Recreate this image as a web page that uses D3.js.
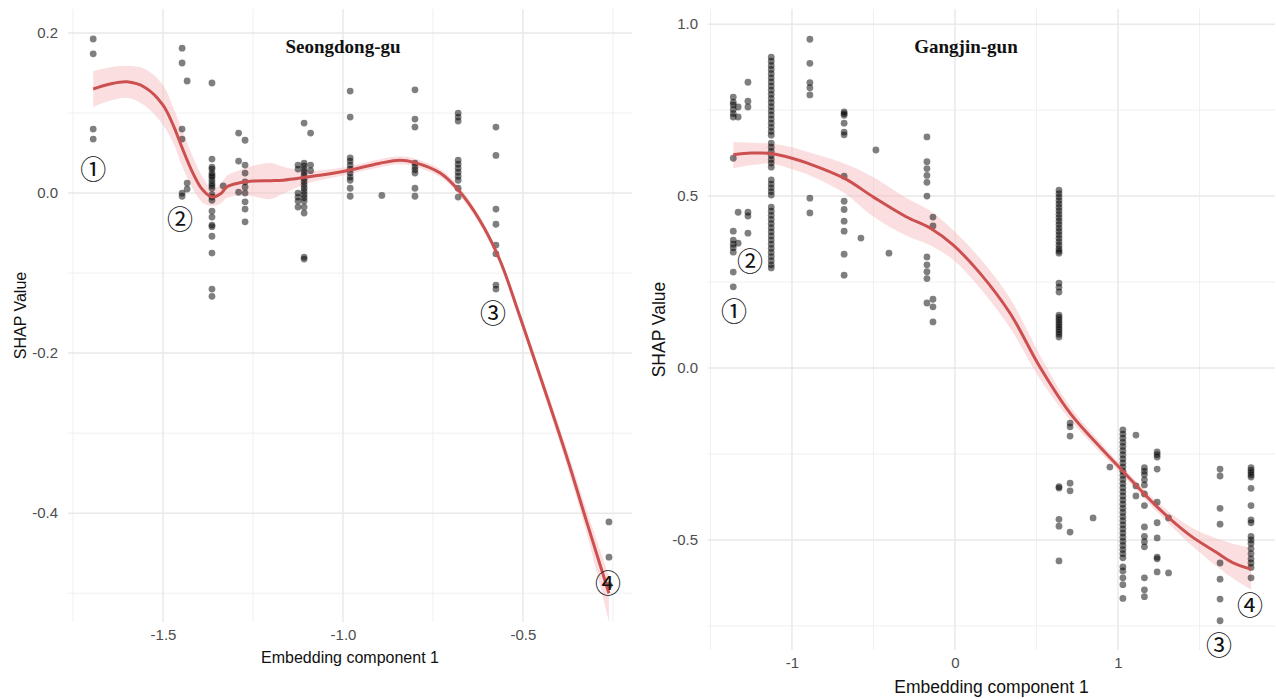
<!DOCTYPE html>
<html lang="en">
<head>
<meta charset="UTF-8">
<title>SHAP dependence - Seongdong-gu / Gangjin-gun</title>
<script src="https://cdn.jsdelivr.net/npm/d3@7"></script>
<style>
  body { margin: 0; background: #fff; }
</style>
</head>
<body>
<div id="chart"></div>
<script>
// ---- Seongdong-gu (left panel) ----
// each entry: [embedding value, [shap values at that embedding]]
const seongdongPoints = [
  [-1.694, [0.1925, 0.174, 0.08, 0.0675]],
  [-1.447, [0.181, 0.1625, 0.08, 0.0675, 0.0, -0.004]],
  [-1.433, [0.14, 0.0125, 0.005]],
  [-1.364, [0.1375, 0.0425, 0.0325, 0.03, 0.025, 0.022, 0.02, 0.016, 0.012, 0.009, 0.006, -0.002, -0.005, -0.009, -0.0225, -0.03, -0.04, -0.042, -0.054, -0.075, -0.12, -0.129]],
  [-1.333, [0.009]],
  [-1.29, [0.075, 0.04, 0.001]],
  [-1.272, [0.066, 0.035, 0.025, 0.014, 0.0075, 0.0, -0.011, -0.02, -0.036]],
  [-1.125, [0.035, 0.03, 0.0, -0.005, -0.01, -0.0175]],
  [-1.108, [0.0875, 0.0375, 0.034, 0.03, 0.026, 0.022, 0.018, 0.014, 0.01, 0.006, 0.002, -0.002, -0.006, -0.01, -0.0175, -0.025, -0.08, -0.0825]],
  [-1.09, [0.075, 0.035, 0.028]],
  [-0.98, [0.1275, 0.095, 0.044, 0.04, 0.035, 0.03, 0.025, 0.02, 0.016, 0.006, -0.004]],
  [-0.892, [-0.003]],
  [-0.8, [0.129, 0.0925, 0.0825, 0.0375, 0.033, 0.029, 0.025, 0.006, -0.004]],
  [-0.68, [0.1, 0.095, 0.09, 0.041, 0.036, 0.031, 0.026, 0.021, 0.016, 0.006, -0.005]],
  [-0.575, [0.0825, 0.047, -0.02, -0.039, -0.065, -0.076, -0.115, -0.12]],
  [-0.261, [-0.411, -0.455, -0.49]]
];
const seongdongFitX = [-1.694, -1.65, -1.6, -1.55, -1.5, -1.47, -1.45, -1.417, -1.39, -1.364, -1.34, -1.322, -1.29, -1.25, -1.2, -1.167, -1.1, -1.0, -0.9, -0.842, -0.8, -0.73, -0.68, -0.62, -0.564, -0.508, -0.45, -0.378, -0.32, -0.261];
const seongdongFit   = [0.130, 0.136, 0.139, 0.132, 0.110, 0.083, 0.060, 0.025, 0.004, -0.005, -0.001, 0.008, 0.0125, 0.015, 0.0155, 0.016, 0.020, 0.027, 0.037, 0.041, 0.038, 0.025, 0.004, -0.034, -0.084, -0.155, -0.232, -0.33, -0.415, -0.5];
const seongdongHi    = [0.1525, 0.157, 0.159, 0.155, 0.135, 0.105, 0.083, 0.045, 0.02, 0.006, 0.011, 0.022, 0.028, 0.034, 0.0375, 0.033, 0.028, 0.032, 0.042, 0.046, 0.043, 0.03, 0.009, -0.029, -0.079, -0.149, -0.225, -0.32, -0.4, -0.478];
const seongdongLo    = [0.1075, 0.115, 0.119, 0.109, 0.085, 0.061, 0.037, 0.005, -0.012, -0.016, -0.013, -0.006, -0.003, -0.004, -0.0075, -0.001, 0.012, 0.022, 0.032, 0.036, 0.033, 0.02, -0.001, -0.039, -0.089, -0.161, -0.239, -0.34, -0.43, -0.535];
const seongdongMarks = [["①", -1.694, 0.0325], ["②", -1.453, -0.031], ["③", -0.583, -0.1475], ["④", -0.264, -0.485]];

// ---- Gangjin-gun (right panel) ----
const gangjinPoints = [
  [-1.36, [0.788, 0.773, 0.765, 0.752, 0.74, 0.73, 0.61, 0.398, 0.372, 0.36, 0.35, 0.337, 0.279, 0.236]],
  [-1.33, [0.759, 0.73, 0.453, 0.363]],
  [-1.27, [0.831, 0.776, 0.759, 0.453, 0.442, 0.392]],
  [-1.127, [0.904, 0.892, 0.88, 0.868, 0.856, 0.844, 0.832, 0.82, 0.808, 0.796, 0.784, 0.772, 0.76, 0.748, 0.736, 0.724, 0.712, 0.7, 0.688, 0.677,
            0.654, 0.642, 0.63, 0.618, 0.606, 0.596, 0.584, 0.547, 0.535, 0.524, 0.513, 0.503,
            0.468, 0.456, 0.444, 0.432, 0.42, 0.408, 0.396, 0.384, 0.372, 0.36, 0.348, 0.336, 0.324, 0.312, 0.3, 0.291]],
  [-0.89, [0.956, 0.886, 0.83, 0.815, 0.794, 0.494, 0.451]],
  [-0.68, [0.745, 0.74, 0.735, 0.712, 0.686, 0.678, 0.558, 0.485, 0.461, 0.427, 0.398, 0.331, 0.27]],
  [-0.577, [0.378]],
  [-0.485, [0.634]],
  [-0.405, [0.334]],
  [-0.172, [0.672, 0.6, 0.58, 0.56, 0.54, 0.5, 0.323, 0.3, 0.28, 0.26, 0.189]],
  [-0.135, [0.439, 0.413, 0.2, 0.178, 0.134]],
  [0.638, [0.517, 0.507, 0.497, 0.487, 0.477, 0.467, 0.457, 0.447, 0.437, 0.427, 0.417, 0.407, 0.397, 0.387, 0.377, 0.367, 0.357, 0.347, 0.34, 0.334,
           0.247, 0.235, 0.221, 0.154, 0.147, 0.14, 0.133, 0.126, 0.119, 0.112, 0.105, 0.098, 0.09, -0.345, -0.349, -0.44, -0.46, -0.561]],
  [0.706, [-0.16, -0.171, -0.198, -0.335, -0.357, -0.477]],
  [0.847, [-0.436]],
  [0.95, [-0.288]],
  [1.03, [-0.18, -0.192, -0.204, -0.216, -0.228, -0.24, -0.252, -0.264, -0.276, -0.288, -0.3, -0.312, -0.324, -0.336, -0.348, -0.36,
          -0.372, -0.384, -0.396, -0.408, -0.42, -0.432, -0.444, -0.456, -0.468, -0.48, -0.492, -0.504, -0.516, -0.528, -0.54, -0.552,
          -0.578, -0.59, -0.61, -0.63, -0.67]],
  [1.11, [-0.195, -0.343, -0.372]],
  [1.162, [-0.29, -0.3, -0.31, -0.325, -0.34, -0.366, -0.4, -0.462, -0.49, -0.505, -0.52, -0.61, -0.645, -0.665]],
  [1.24, [-0.244, -0.252, -0.259, -0.294, -0.39, -0.45, -0.494, -0.55, -0.555, -0.593]],
  [1.31, [-0.436, -0.596]],
  [1.626, [-0.294, -0.314, -0.408, -0.454, -0.567, -0.614, -0.672, -0.735]],
  [1.816, [-0.29, -0.297, -0.304, -0.311, -0.317, -0.35, -0.4, -0.442, -0.45, -0.49, -0.5, -0.51, -0.525, -0.54, -0.555, -0.567, -0.58, -0.61]]
];
const gangjinFitX = [-1.36, -1.25, -1.12, -1.0, -0.9, -0.68, -0.5, -0.3, -0.153, -0.012, 0.153, 0.337, 0.521, 0.706, 0.9, 1.03, 1.24, 1.44, 1.6, 1.7, 1.816];
const gangjinFit  = [0.62, 0.625, 0.623, 0.61, 0.595, 0.552, 0.497, 0.44, 0.407, 0.358, 0.276, 0.16, 0.003, -0.131, -0.235, -0.3, -0.404, -0.486, -0.535, -0.565, -0.585];
const gangjinHi   = [0.657, 0.655, 0.652, 0.642, 0.628, 0.595, 0.555, 0.495, 0.457, 0.401, 0.319, 0.203, 0.038, -0.111, -0.22, -0.288, -0.389, -0.461, -0.495, -0.51, -0.522];
const gangjinLo   = [0.58, 0.59, 0.594, 0.578, 0.562, 0.509, 0.44, 0.385, 0.357, 0.315, 0.233, 0.117, -0.032, -0.151, -0.25, -0.312, -0.419, -0.511, -0.575, -0.61, -0.645];
const gangjinMarks = [["①", -1.356, 0.169], ["②", -1.258, 0.317], ["③", 1.62, -0.802], ["④", 1.81, -0.686]];

const width = 1276, height = 699;
const sansFont = "'Liberation Sans', Arial, sans-serif";
const svg = d3.select("#chart").append("svg")
  .attr("width", width).attr("height", height)
  .attr("viewBox", `0 0 ${width} ${height}`);

function drawPanel(cfg) {
  const x = d3.scaleLinear().domain(cfg.xDomain).range([cfg.left, cfg.right]);
  const y = d3.scaleLinear().domain(cfg.yDomain).range([cfg.bottom, cfg.top]);
  const g = svg.append("g");

  // minor then major gridlines
  g.selectAll(".xminor").data(cfg.xMinor).join("line")
    .attr("x1", d => x(d)).attr("x2", d => x(d)).attr("y1", cfg.top).attr("y2", cfg.bottom)
    .attr("stroke", "#f0f0f0").attr("stroke-width", 1);
  g.selectAll(".yminor").data(cfg.yMinor).join("line")
    .attr("y1", d => y(d)).attr("y2", d => y(d)).attr("x1", cfg.left).attr("x2", cfg.right)
    .attr("stroke", "#f0f0f0").attr("stroke-width", 1);
  g.selectAll(".xmajor").data(cfg.xTicks).join("line")
    .attr("x1", d => x(d)).attr("x2", d => x(d)).attr("y1", cfg.top).attr("y2", cfg.bottom)
    .attr("stroke", "#e9e9e9").attr("stroke-width", 1.5);
  g.selectAll(".ymajor").data(cfg.yTicks).join("line")
    .attr("y1", d => y(d)).attr("y2", d => y(d)).attr("x1", cfg.left).attr("x2", cfg.right)
    .attr("stroke", "#e9e9e9").attr("stroke-width", 1.5);

  // axes (labels only, ggplot minimal style)
  const fixMinus = f => d => f(d).replace("\u2212", "-");
  const xAxis = g.append("g").attr("transform", `translate(0,${cfg.bottom})`)
    .call(d3.axisBottom(x).tickValues(cfg.xTicks).tickFormat(fixMinus(d3.format(cfg.xFormat))).tickSize(0).tickPadding(7));
  const yAxis = g.append("g").attr("transform", `translate(${cfg.left},0)`)
    .call(d3.axisLeft(y).tickValues(cfg.yTicks).tickFormat(fixMinus(d3.format(".1f"))).tickSize(0).tickPadding(10));
  [xAxis, yAxis].forEach(a => {
    a.select(".domain").remove();
    a.selectAll("text").attr("fill", "#4d4d4d")
      .style("font-size", cfg.tickSize + "px").style("font-family", sansFont);
  });

  g.append("text")
    .attr("x", (cfg.left + cfg.right) / 2).attr("y", cfg.bottom + cfg.titleGap)
    .attr("text-anchor", "middle").attr("fill", "#111")
    .style("font-size", cfg.labelSize + "px").style("font-family", sansFont)
    .text("Embedding component 1");
  g.append("text")
    .attr("transform", `translate(${cfg.left - cfg.yLabelGap},${(cfg.top + cfg.bottom) / 2}) rotate(-90)`)
    .attr("text-anchor", "middle").attr("fill", "#111")
    .style("font-size", cfg.labelSize + "px").style("font-family", sansFont)
    .text("SHAP Value");

  // confidence band
  const band = cfg.fitX.map((v, i) => ({ x: v, lo: cfg.lo[i], hi: cfg.hi[i], f: cfg.fit[i] }));
  g.append("path").datum(band)
    .attr("fill", "#f7b8bb").attr("fill-opacity", 0.45)
    .attr("d", d3.area().curve(d3.curveCatmullRom.alpha(0.5))
      .x(d => x(d.x)).y0(d => y(d.lo)).y1(d => y(d.hi)));

  // points
  const pts = cfg.points.flatMap(([xv, ys]) => ys.map(yv => ({ x: xv, y: yv })));
  g.selectAll(".pt").data(pts).join("circle")
    .attr("cx", d => x(d.x)).attr("cy", d => y(d.y)).attr("r", 3.4)
    .attr("fill", "#000").attr("fill-opacity", 0.5);

  // smooth line
  g.append("path").datum(band)
    .attr("fill", "none").attr("stroke", "#cd5050").attr("stroke-width", 3)
    .attr("d", d3.line().curve(d3.curveCatmullRom.alpha(0.5)).x(d => x(d.x)).y(d => y(d.f)));

  // panel title
  g.append("text")
    .attr("x", cfg.titleX).attr("y", 53)
    .attr("text-anchor", "middle").attr("fill", "#111")
    .style("font-size", "19px").style("font-weight", "bold")
    .style("font-family", "'Liberation Serif', 'Times New Roman', serif")
    .text(cfg.title);

  // circled markers
  g.selectAll(".mark").data(cfg.marks).join("text")
    .attr("x", d => x(d[1])).attr("y", d => y(d[2]))
    .attr("text-anchor", "middle").attr("dominant-baseline", "central")
    .attr("fill", "#111")
    .style("font-size", "26px").style("font-family", "'Noto Sans CJK JP', 'DejaVu Sans', sans-serif")
    .text(d => d[0]);
}

drawPanel({
  title: "Seongdong-gu", titleX: 343,
  left: 68, right: 632, top: 9, bottom: 622,
  xDomain: [-1.764, -0.197], yDomain: [-0.536, 0.23],
  xTicks: [-1.5, -1.0, -0.5], xMinor: [-1.75, -1.25, -0.75, -0.25], xFormat: ".1f",
  yTicks: [0.2, 0.0, -0.2, -0.4], yMinor: [0.1, -0.1, -0.3, -0.5],
  tickSize: 15, labelSize: 16, titleGap: 41, yLabelGap: 42,
  points: seongdongPoints, fitX: seongdongFitX, fit: seongdongFit, lo: seongdongLo, hi: seongdongHi,
  marks: seongdongMarks
});

drawPanel({
  title: "Gangjin-gun", titleX: 966,
  left: 708, right: 1275, top: 9, bottom: 650,
  xDomain: [-1.515, 1.963], yDomain: [-0.82, 1.044],
  xTicks: [-1, 0, 1], xMinor: [-1.5, -0.5, 0.5, 1.5], xFormat: "d",
  yTicks: [1.0, 0.5, 0.0, -0.5], yMinor: [0.75, 0.25, -0.25, -0.75],
  tickSize: 15, labelSize: 17.5, titleGap: 43, yLabelGap: 43,
  points: gangjinPoints, fitX: gangjinFitX, fit: gangjinFit, lo: gangjinLo, hi: gangjinHi,
  marks: gangjinMarks
});
</script>
</body>
</html>
